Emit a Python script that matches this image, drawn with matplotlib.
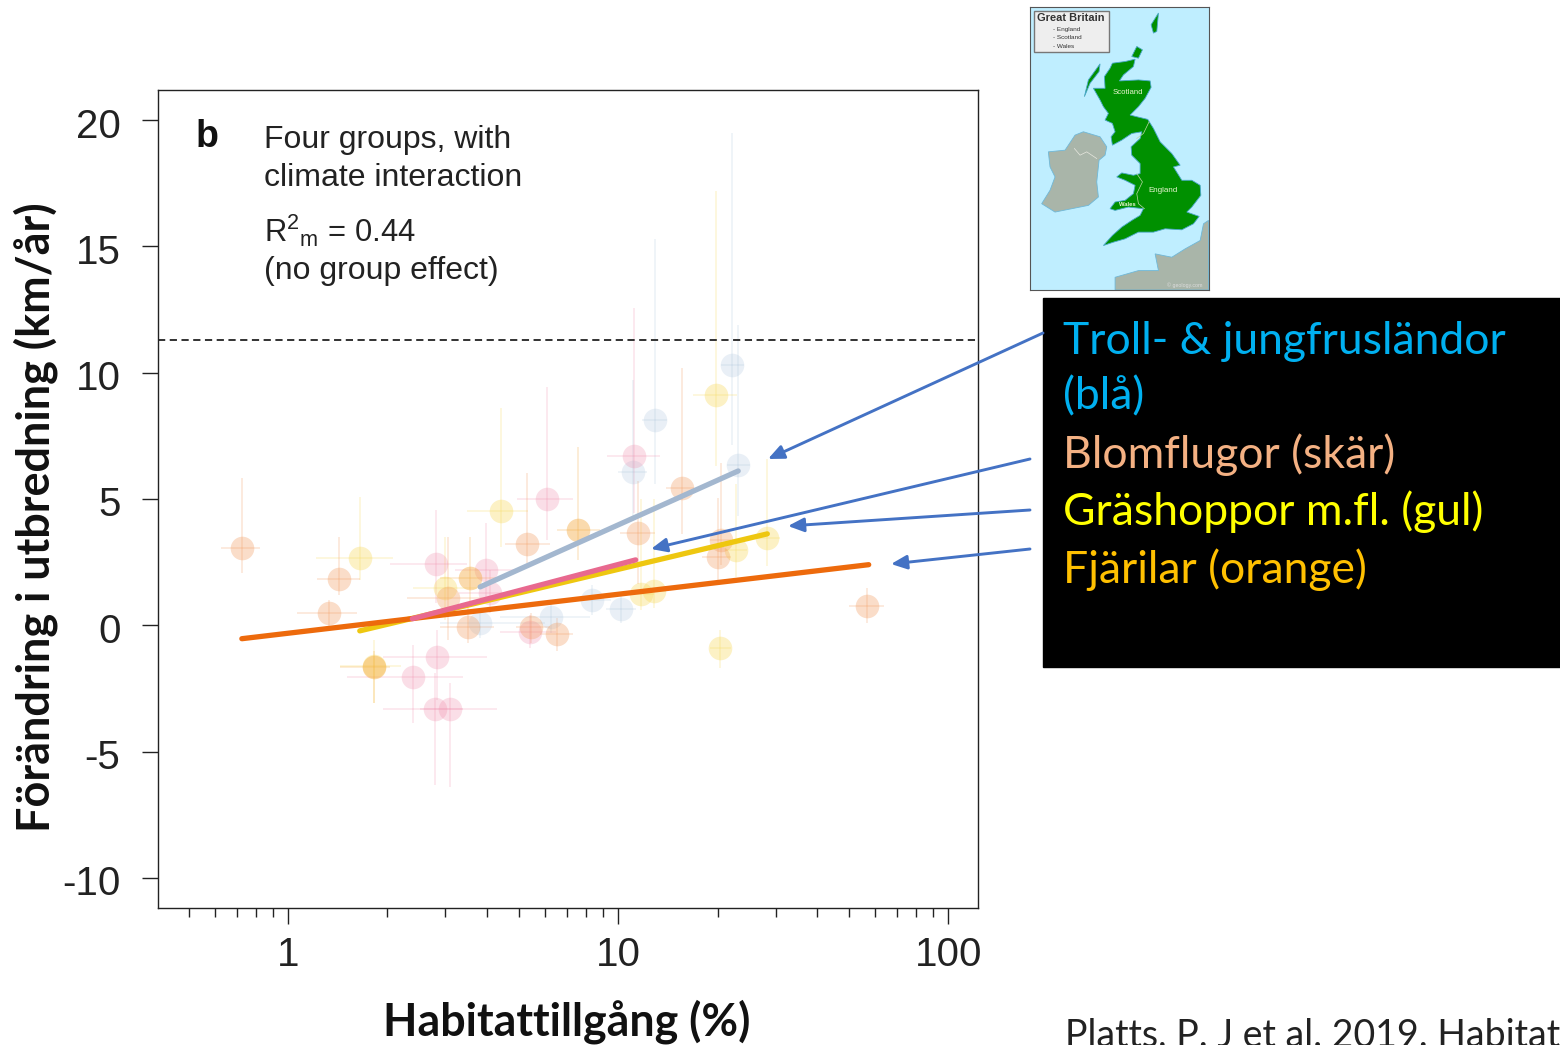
import matplotlib
matplotlib.use('Agg')
import matplotlib.pyplot as plt
from matplotlib.patches import Polygon, Rectangle
from matplotlib.transforms import ScaledTranslation

plt.rcParams['font.family'] = ['Liberation Sans', 'DejaVu Sans']
plt.rcParams['axes.unicode_minus'] = False
plt.rcParams['mathtext.fontset'] = 'custom'
plt.rcParams['mathtext.rm'] = 'Liberation Sans'

# values: x, y, x range, y range
peach_x = [0.724, 1.427, 1.33, 3.05, 3.51, 5.3, 5.45, 6.53, 11.5, 15.6, 20.5, 20.1, 56.8]
peach_y = [3.08, 1.83, 0.48, 1.09, -0.06, 3.22, -0.06, -0.34, 3.64, 5.44, 3.38, 2.71, 0.78]
peach_xlo = [0.625, 1.224, 1.065, 2.29, 2.89, 4.55, 4.9, 5.8, 10.1, 14.0, 19.0, 18.0, 50.0]
peach_xhi = [0.822, 1.65, 1.62, 4.39, 4.2, 6.22, 6.2, 7.3, 12.9, 17.0, 22.0, 22.0, 64.0]
peach_ylo = [2.08, 1.21, -0.05, -0.57, -0.7, 2.47, -0.7, -1.0, 1.64, 3.62, 2.4, 1.8, 0.1]
peach_yhi = [5.84, 3.5, 1.0, 3.5, 0.8, 6.03, 0.5, 0.3, 5.72, 10.2, 6.43, 5.05, 1.48]

pink_x = [2.81, 3.98, 4.09, 5.41, 6.09, 2.82, 2.39, 2.79, 3.1, 11.2]
pink_y = [2.44, 2.2, 1.29, -0.26, 5.0, -1.25, -2.03, -3.33, -3.33, 6.7]
pink_xlo = [2.04, 3.2, 3.3, 4.4, 4.94, 1.94, 1.51, 1.94, 2.51, 9.26]
pink_xhi = [3.49, 4.9, 5.0, 6.5, 7.31, 4.01, 3.39, 3.39, 4.3, 13.4]
pink_ylo = [0.89, 1.0, 0.5, -0.9, 3.38, -2.95, -3.86, -6.31, -6.39, 4.45]
pink_yhi = [4.57, 4.06, 2.2, 0.4, 9.44, -0.2, -0.77, -1.88, -2.28, 12.58]

yellow_x = [1.656, 2.99, 4.43, 19.8, 28.3, 22.8, 11.7, 12.8, 20.4, 1.82]
yellow_y = [2.68, 1.47, 4.53, 9.13, 3.45, 2.98, 1.24, 1.36, -0.89, -1.6]
yellow_xlo = [1.22, 2.39, 3.49, 16.9, 26.0, 21.0, 10.6, 11.8, 19.0, 1.44]
yellow_xhi = [2.08, 3.74, 5.34, 22.9, 31.0, 24.5, 12.8, 14.0, 22.0, 2.2]
yellow_ylo = [1.8, 0.22, 3.1, 6.3, 2.35, 1.92, 0.6, 0.7, -1.68, -3.07]
yellow_yhi = [5.09, 3.5, 8.6, 17.2, 6.59, 5.6, 5.0, 5.0, -0.2, -0.6]

blue_x = [3.82, 6.26, 8.34, 10.2, 11.1, 12.9, 22.2, 23.1]
blue_y = [0.1, 0.34, 1.01, 0.65, 6.07, 8.13, 10.3, 6.35]
blue_xlo = [2.89, 4.39, 7.3, 9.2, 10.0, 11.8, 20.5, 21.3]
blue_xhi = [6.0, 8.22, 9.5, 11.3, 12.2, 14.1, 24.0, 25.0]
blue_ylo = [-0.5, -0.3, 0.4, 0.1, 4.2, 5.6, 7.14, 4.33]
blue_yhi = [0.7, 1.0, 1.6, 1.2, 9.7, 15.3, 19.5, 11.9]

orange_x = [1.82, 3.56, 7.56]
orange_y = [-1.64, 1.88, 3.78]
orange_xlo = [1.44, 2.89, 6.53]
orange_xhi = [2.04, 4.39, 8.82]
orange_ylo = [-3.07, 0.73, 2.59]
orange_yhi = [-1.0, 3.5, 7.06]

# fitted lines
fit_yellow_x, fit_yellow_y = [1.65, 28.3], [-0.22, 3.62]
fit_orange_x, fit_orange_y = [0.725, 57.4], [-0.53, 2.4]
fit_pink_x, fit_pink_y = [2.38, 11.3], [0.26, 2.59]
fit_blue_x, fit_blue_y = [3.82, 23.1], [1.52, 6.11]

fig = plt.figure(figsize=(15.6, 10.45), dpi=100)
ax = fig.add_axes([158/1560, 1-908/1045, 820/1560, 818/1045])


def group(x, y, xlo, xhi, ylo, yhi, col, a_line, a_dot):
    xerr = [[v-l for v, l in zip(x, xlo)], [h-v for v, h in zip(x, xhi)]]
    yerr = [[v-l for v, l in zip(y, ylo)], [h-v for v, h in zip(y, yhi)]]
    ax.errorbar(x, y, xerr=xerr, yerr=yerr, fmt='none', ecolor=col, elinewidth=1.3, alpha=a_line, zorder=1)
    ax.plot(x, y, 'o', color=col, ms=17, mew=0, alpha=a_dot, zorder=2)


group(blue_x, blue_y, blue_xlo, blue_xhi, blue_ylo, blue_yhi, '#a9c2dc', 0.2, 0.25)
group(yellow_x, yellow_y, yellow_xlo, yellow_xhi, yellow_ylo, yellow_yhi, '#f7d95a', 0.22, 0.35)
group(pink_x, pink_y, pink_xlo, pink_xhi, pink_ylo, pink_yhi, '#f088a8', 0.2, 0.27)
group(peach_x, peach_y, peach_xlo, peach_xhi, peach_ylo, peach_yhi, '#f29a5c', 0.22, 0.33)
group(orange_x, orange_y, orange_xlo, orange_xhi, orange_ylo, orange_yhi, '#f4a93c', 0.22, 0.42)

ax.plot(fit_yellow_x, fit_yellow_y, color='#eec710', lw=3.8, solid_capstyle='round', zorder=3)
ax.plot(fit_orange_x, fit_orange_y, color='#ed6a0c', lw=3.8, solid_capstyle='round', zorder=4)
ax.plot(fit_pink_x, fit_pink_y, color='#e8698f', lw=3.8, solid_capstyle='round', zorder=5)
ax.plot(fit_blue_x, fit_blue_y, color='#a3b7cf', lw=3.8, solid_capstyle='round', zorder=6)

ax.plot([0.404, 121], [11.3, 11.3], color='#222222', lw=1.3, ls=(0, (4, 2.5)), zorder=3)

ax.set_xscale('log')
ax.set_xlim(0.404, 123)
ax.set_ylim(-11.19, 21.19)
ax.set_xticks([1, 10, 100])
ax.set_xticklabels(['1', '10', '100'])
ax.set_xticks([0.5, 0.6, 0.7, 0.8, 0.9, 2, 3, 4, 5, 6, 7, 8, 9, 20, 30, 40, 50, 60, 70, 80, 90], minor=True)
ax.set_xticklabels([], minor=True)
ax.set_yticks([-10, -5, 0, 5, 10, 15, 20])
ax.tick_params(axis='both', which='major', length=11.5, width=1, labelsize=29, color='#222222', labelcolor='#222222')
ax.tick_params(axis='x', which='major', pad=8.5)
ax.tick_params(axis='y', which='major', pad=15.5)
ax.tick_params(axis='x', which='minor', length=6.5, width=1, color='#222222')
for s in ax.spines.values():
    s.set_linewidth(1)
    s.set_color('#222222')
down = ScaledTranslation(0, -2.5/100, fig.dpi_scale_trans)
for lab in ax.get_yticklabels():
    lab.set_transform(lab.get_transform() + down)

# overlay in picture pixels for notes, arrows and the black box
ov = fig.add_axes([0, 0, 1, 1], facecolor='none')
ov.set_xlim(0, 1560)
ov.set_ylim(1045, 0)
ov.axis('off')

ov.text(196, 137, 'b', fontsize=27, fontweight='bold', va='center', color='#111111')
ov.text(264, 140, 'Four groups, with', fontsize=23, va='center', color='#222222')
ov.text(264, 178, 'climate interaction', fontsize=23, va='center', color='#222222')
ov.text(264, 231, r'R$^{2}{}_{\mathrm{m}}$ = 0.44', fontsize=22.3, va='center', color='#222222')
ov.text(264, 271, '(no group effect)', fontsize=23, va='center', color='#222222')

ov.text(36, 517, 'Förändring i utbredning (km/år)', family='Lato', fontweight='bold', fontsize=32.4,
        rotation=90, ha='center', va='center', color='#111111')
ov.text(567, 1022, 'Habitattillgång (%)', family='Lato', fontweight='bold', fontsize=32.2,
        ha='center', va='center', color='#111111')

ov.add_patch(Rectangle((1043, 298), 517, 369, color='black', zorder=1))
ov.text(1063, 341, 'Troll- & jungfrusländor', family='Lato', fontsize=32, color='#00B0F0', va='center', zorder=2)
ov.text(1063, 397, '(blå)', family='Lato', fontsize=32, color='#00B0F0', va='center', zorder=2)
ov.text(1063, 455, 'Blomflugor (skär)', family='Lato', fontsize=32, color='#F4B183', va='center', zorder=2)
ov.text(1063, 512, 'Gräshoppor m.fl. (gul)', family='Lato', fontsize=32, color='#FFFF00', va='center', zorder=2)
ov.text(1063, 570, 'Fjärilar (orange)', family='Lato', fontsize=32, color='#FFC000', va='center', zorder=2)
ov.text(1065, 1036, 'Platts, P. J et al. 2019. Habitat', family='Lato', fontsize=27, color='#222222', va='center')

for start, end in [((1043, 333), (768, 459)), ((1030, 459), (651, 549)),
                   ((1030, 510), (788, 526)), ((1030, 549), (891, 564))]:
    ov.annotate('', xy=end, xytext=start, zorder=3,
                arrowprops=dict(arrowstyle='-|>,head_length=0.95,head_width=0.42', color='#4472C4', lw=2.1,
                                shrinkA=0, shrinkB=0))

# map inset, outlines traced by eye
gb = [(262, 190), (300, 185), (330, 178), (325, 200), (295, 225), (283, 243), (340, 240), (375, 243), (378, 262),
      (360, 295), (340, 320), (315, 345), (335, 350), (368, 358), (385, 385), (405, 425), (440, 460), (465, 495),
      (445, 500), (470, 540), (500, 540), (525, 555), (527, 585), (500, 620), (485, 635), (522, 648), (505, 670),
      (470, 688), (420, 685), (385, 695), (340, 695), (300, 715), (265, 725), (235, 735), (262, 705), (290, 680),
      (320, 660), (345, 645), (355, 625), (310, 620), (270, 630), (255, 625), (270, 605), (300, 600), (325, 580),
      (330, 555), (300, 540), (275, 530), (290, 518), (325, 525), (345, 520), (345, 490), (320, 465), (318, 440),
      (345, 415), (350, 395), (320, 400), (290, 420), (262, 435), (258, 410), (270, 395), (262, 370), (240, 360),
      (250, 340), (235, 320), (225, 300), (205, 265), (240, 265), (238, 230), (255, 205)]
ireland = [(130, 435), (150, 405), (175, 395), (225, 410), (245, 440), (240, 465), (222, 480), (215, 545), (220, 590),
           (190, 615), (90, 635), (50, 610), (75, 570), (90, 530), (75, 500), (70, 455), (120, 450)]
france = [(270, 868), (270, 830), (340, 810), (400, 810), (390, 760), (440, 770), (480, 745), (525, 720), (535, 670),
          (550, 660), (550, 868)]
lewis = [(178, 290), (190, 240), (225, 192), (222, 215), (195, 250)]
orkney = [(320, 170), (335, 140), (352, 150), (340, 175)]
shetland = [(378, 75), (400, 40), (395, 95), (385, 100)]
border_sc = [(335, 415), (355, 400), (372, 365)]
border_wa = [(335, 520), (352, 545), (335, 580), (340, 610), (358, 625)]
border_ni = [(148, 445), (165, 465), (185, 455), (215, 475)]

m = fig.add_axes([1030/1560, 1-290/1045, 178.5/1560, 283/1045], facecolor='#bfeeff')
m.set_xlim(15, 550)
m.set_ylim(868, 22)
m.set_xticks([])
m.set_yticks([])
for s in m.spines.values():
    s.set_linewidth(0.8)
    s.set_color('#555555')
for poly in (ireland, france):
    m.add_patch(Polygon(poly, fc='#a9b5a9', ec='#6fb8d8', lw=0.6))
for poly in (gb, lewis, orkney, shetland):
    m.add_patch(Polygon(poly, fc='#009000', ec='#4aa8c8', lw=0.6))
for line in (border_sc, border_wa):
    m.plot([p[0] for p in line], [p[1] for p in line], color='#bcd9a8', lw=0.5)
m.plot([p[0] for p in border_ni], [p[1] for p in border_ni], color='#e8e8e0', lw=0.5)
m.add_patch(Rectangle((27, 33), 225, 124, fc='#eeeeee', ec='#777777', lw=1))
m.text(138, 56, 'Great Britain', fontsize=7.9, fontweight='bold', ha='center', va='center', color='#333333')
m.text(85, 88, '- England', fontsize=4.6, va='center', color='#333333')
m.text(85, 113, '- Scotland', fontsize=4.6, va='center', color='#333333')
m.text(85, 139, '- Wales', fontsize=4.6, va='center', color='#333333')
m.text(308, 277, 'Scotland', fontsize=5.6, ha='center', va='center', color='#e8f5d0')
m.text(413, 570, 'England', fontsize=5.8, ha='center', va='center', color='#e8f5d0')
m.text(308, 611, 'Wales', fontsize=4.2, fontweight='bold', ha='center', va='center', color='#e8f5d0')
m.text(480, 855, '© geology.com', fontsize=3.8, ha='center', va='center', color='#dddddd')

fig.savefig('out.png', dpi=100)
